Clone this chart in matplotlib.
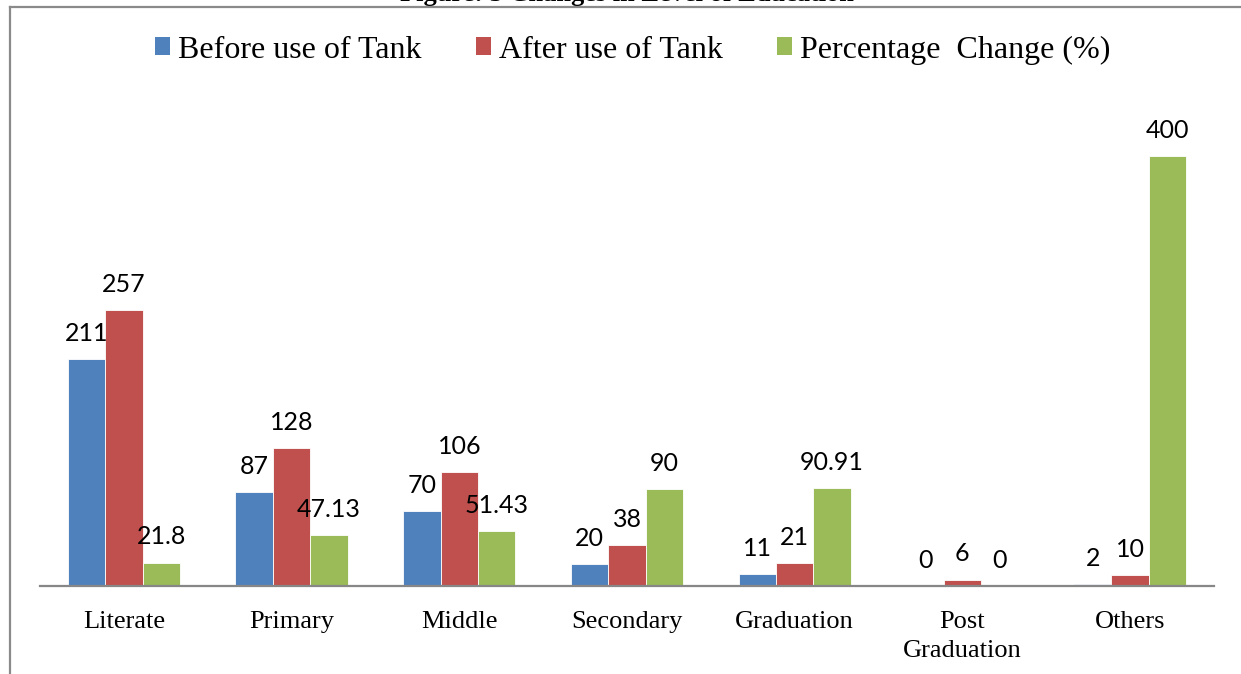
import numpy as np
import matplotlib
matplotlib.use("Agg")
import matplotlib.pyplot as plt
from matplotlib.patches import Patch
from matplotlib.lines import Line2D

# Data
categories = ["Literate", "Primary", "Middle", "Secondary", "Graduation",
              "Post\nGraduation", "Others"]
before = [211, 87, 70, 20, 11, 0, 2]
after = [257, 128, 106, 38, 21, 6, 10]
pct_change = [21.8, 47.13, 51.43, 90, 90.91, 0, 400]
series_names = ["Before use of Tank", "After use of Tank", "Percentage  Change (%)"]
label_text = [
    ["211", "87", "70", "20", "11", "0", "2"],
    ["257", "128", "106", "38", "21", "6", "10"],
    ["21.8", "47.13", "51.43", "90", "90.91", "0", "400"],
]

colors = ["#4F81BD", "#C0504D", "#9BBB59"]
serif = "Liberation Serif"
label_font = "Lato"

W, H = 1241, 674
fig = plt.figure(figsize=(W / 100, H / 100), dpi=100)
ax = fig.add_axes([40 / W, 1 - 586 / H, (1214 - 40) / W, 484 / H])

x = np.arange(len(categories))
bw = 0.223
for i, vals in enumerate([before, after, pct_change]):
    pos = x + (i - 1) * bw
    ax.bar(pos, vals, width=bw, color=colors[i], edgecolor="white",
           linewidth=0.6, zorder=2)
    for p, v, t in zip(pos, vals, label_text[i]):
        ax.annotate(t, (p, v), xytext=(0, 13), textcoords="offset points",
                    ha="center", va="baseline", fontsize=18,
                    family=label_font, color="black")

ax.set_xlim(-0.5, len(categories) - 0.5)
ax.set_ylim(0, 450)
ax.set_yticks([])
ax.set_xticks(x)
ax.set_xticklabels(categories, fontsize=19, family=serif)
for lbl in ax.get_xticklabels():
    lbl.set_linespacing(1.4)
ax.tick_params(axis="x", length=0, pad=18)
for s in ["top", "right", "left"]:
    ax.spines[s].set_visible(False)
ax.spines["bottom"].set_color("#878787")
ax.spines["bottom"].set_linewidth(1.6)
ax.spines["bottom"].set_zorder(3)

# legend across the top
handles = [Patch(facecolor=c, edgecolor="none") for c in colors]
fig.legend(handles, series_names, loc="center", ncol=3,
           bbox_to_anchor=(633 / W, 1 - 50 / H), frameon=False,
           prop={"family": serif, "size": 23},
           handlelength=0.47, handleheight=0.47, handletextpad=0.25,
           columnspacing=1.7)

# chart frame (top and left edges visible)
frame_c = "#8a8a8a"
fig.add_artist(Line2D([10 / W, 1], [1 - 7 / H, 1 - 7 / H], color=frame_c,
                      lw=1.6, transform=fig.transFigure))
fig.add_artist(Line2D([10 / W, 10 / W], [0, 1 - 7 / H], color=frame_c,
                      lw=1.6, transform=fig.transFigure))

# figure caption, cut off at the top edge as in the source
fig.text(627 / W, 1 - 1 / H, "Figure: 5 Changes in Level of Education",
         ha="center", va="baseline", fontsize=19, fontweight="bold",
         family=serif)

fig.savefig("out.png", dpi=100)
